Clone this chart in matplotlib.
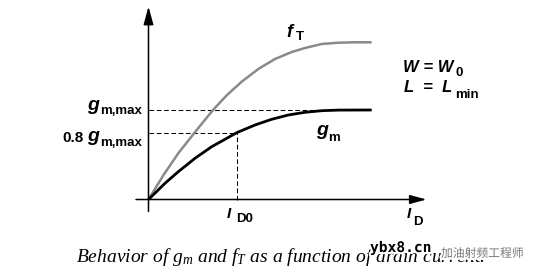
import matplotlib
matplotlib.use("Agg")
import matplotlib.pyplot as plt
import matplotlib.patheffects as pe

plt.rcParams['mathtext.fontset'] = 'custom'
plt.rcParams['mathtext.it'] = 'Liberation Serif:italic'
plt.rcParams['mathtext.rm'] = 'Liberation Serif:italic'

# curves (x = drain current, y = value), arbitrary units
gm_x = [0, 16.5, 29.8, 46.5, 63.2, 76.5, 88.2, 106.5, 123.2, 139.8, 156.5, 173.2, 190, 223.2]
gm_y = [0, 16.2, 27.8, 41.2, 52.8, 60.2, 66.8, 74.5, 80.2, 84.5, 87.2, 88.8, 89.4, 89.5]
ft_x = [0, 15, 30, 46, 64.5, 78, 93.2, 109.8, 126.5, 143.2, 156.5, 173.2, 189.8, 206, 223.2]
ft_y = [0, 24.5, 46.5, 66.8, 89.5, 104, 117.8, 130.5, 140.5, 147.5, 151.5, 155.5, 156.8, 157.2, 157.2]
gm_max = 89.5
gm_08 = 66.8
id0 = 88.2
gm_max_end = 165

ox, oy = 148.5, 199.5   # origin position in pixels

fig = plt.figure(figsize=(5.48, 2.77), dpi=100)
ax = fig.add_axes([0, 0, 1, 1])
ax.set_xlim(-ox, 548 - ox)
ax.set_ylim(oy - 277, oy)
ax.axis('off')

def txt(px, py, s, size, **kw):
    kw.setdefault('family', 'Liberation Sans')
    kw.setdefault('weight', 'bold')
    ax.text(px - ox, oy - py, s, fontsize=size, va='baseline', ha='left', **kw)

# axes with arrows
ax.annotate('', xy=(0, 193), xytext=(0, -12),
            arrowprops=dict(arrowstyle='-|>,head_length=1.1,head_width=0.3',
                            lw=1.1, color='black', shrinkA=0, shrinkB=0))
ax.annotate('', xy=(278, 0), xytext=(-12.5, 0),
            arrowprops=dict(arrowstyle='-|>,head_length=1.0,head_width=0.27',
                            lw=1.1, color='black', shrinkA=0, shrinkB=0))

# dashed guides
dash = dict(color='black', lw=0.75, dashes=(4.5, 2.5))
ax.plot([0, gm_max_end], [gm_max, gm_max], **dash)
ax.plot([0, id0], [gm_08, gm_08], **dash)
ax.plot([id0, id0], [0, gm_08], **dash)

# curves
ax.plot(ft_x, ft_y, color='#8a8a8a', lw=1.8, solid_capstyle='butt', solid_joinstyle='round')
ax.plot(gm_x, gm_y, color='black', lw=2.0, solid_capstyle='butt', solid_joinstyle='round')

# labels
txt(87, 110, 'g', 14, style='italic')
txt(100, 114.5, 'm,max', 9.5)
txt(62, 141.5, '0.8', 11)
txt(87, 141, 'g', 14, style='italic')
txt(100, 145.5, 'm,max', 9.5)

txt(286, 37, 'f', 13, style='italic')
txt(296, 40.5, 'T', 9.5)
txt(316, 135, 'g', 14, style='italic')
txt(328, 141, 'm', 9.5)

txt(227, 218, 'I', 11, style='italic')
txt(236, 222, 'D0', 9.5)
txt(407, 218, 'I', 11, style='italic')
txt(413, 225, 'D', 9.5)

txt(403, 72, 'W = W', 12, style='italic')
txt(455, 76, '0', 9.5)
txt(404, 92, 'L  =  L', 12, style='italic')
txt(455, 98, 'min', 9.5)

# caption
ax.text(76 - ox, oy - 262, r'Behavior of $g_m$ and $f_T$ as a function of drain current.',
        fontsize=14, family='Liberation Serif', style='italic', va='baseline', ha='left')

# watermark
ax.text(370 - ox, oy - 252, 'ybx8.cn', fontsize=10.5, family='DejaVu Sans Mono',
        weight='bold', va='baseline', ha='left',
        path_effects=[pe.withStroke(linewidth=3, foreground='white')])
ax.text(441 - ox, oy - 257, '加油射频工程师', fontsize=8.5, color='#777777',
        family=['Noto Sans CJK SC', 'DejaVu Sans'], va='baseline', ha='left',
        path_effects=[pe.withStroke(linewidth=3, foreground='white')])

fig.savefig('out.png', dpi=100)
